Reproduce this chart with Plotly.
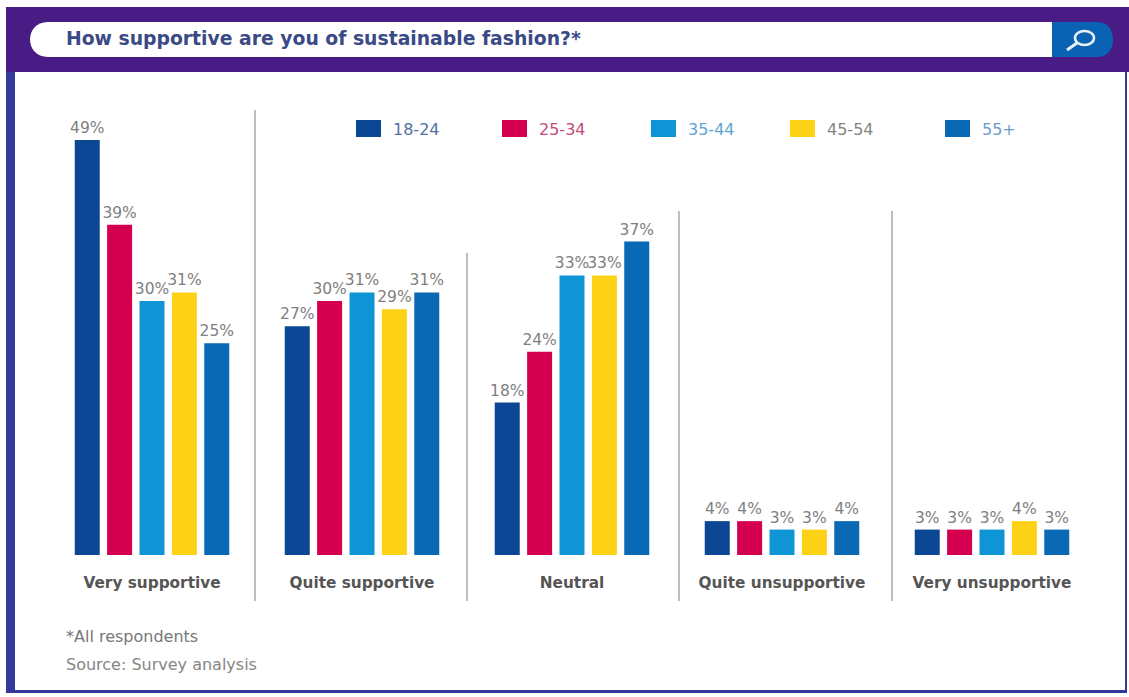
import plotly.graph_objects as go

W, H = 1129, 697

categories = ["Very supportive", "Quite supportive", "Neutral", "Quite unsupportive", "Very unsupportive"]
age_groups = ["18-24", "25-34", "35-44", "45-54", "55+"]
values_18_24 = [49, 27, 18, 4, 3]
values_25_34 = [39, 30, 24, 4, 3]
values_35_44 = [30, 31, 33, 3, 3]
values_45_54 = [31, 29, 33, 3, 4]
values_55_up = [25, 31, 37, 4, 3]
series = [values_18_24, values_25_34, values_35_44, values_45_54, values_55_up]
colors = ["#0b4795", "#d4004f", "#0f94d6", "#fdd116", "#0a69b5"]
legend_text_colors = ["#52719f", "#c44a7a", "#5da5d2", "#85857c", "#6d9bcb"]
title_text = "How supportive are you of sustainable fashion?*"
footnote = "*All respondents"
source = "Source: Survey analysis"

FONT = "DejaVu Sans"
GREY = "#808080"
PURPLE = "#481b85"
FRAME = "#33389a"


def px(x):
    return x / W


def py(y):
    return 1 - y / H


def rect(x0, y0, x1, y1, color):
    return dict(type="rect", xref="paper", yref="paper", layer="below",
                x0=px(x0), x1=px(x1), y0=py(y0), y1=py(y1),
                fillcolor=color, line_width=0)


def line(x0, y0, x1, y1, color, width):
    return dict(type="line", xref="paper", yref="paper",
                x0=px(x0), x1=px(x1), y0=py(y0), y1=py(y1),
                line=dict(color=color, width=width))


def text(x, y, s, color=GREY, size=13, anchor="left", bold=False):
    return dict(xref="paper", yref="paper", x=px(x), y=py(y), text=f"<b>{s}</b>" if bold else s,
                showarrow=False, xanchor=anchor, yanchor="middle",
                font=dict(family=FONT, size=size, color=color))


fig = go.Figure()
for name, vals, color in zip(age_groups, series, colors):
    fig.add_trace(go.Bar(
        name=name, x=categories, y=vals, marker=dict(color=color, line_width=0),
        text=[f"{v}%" for v in vals], textposition="outside", cliponaxis=False,
        constraintext="none",
        textfont=dict(family=FONT, size=15.5, color=GREY), showlegend=False,
    ))

# Panel frame, header band, search pill and its blue tab
shapes = [
    rect(6, 8, 1127, 693, FRAME),
    rect(15, 72, 1125, 690, "#ffffff"),
    rect(6, 7, 1129, 72, PURPLE),
    dict(type="path", xref="paper", yref="paper", layer="below", fillcolor="#ffffff", line_width=0,
         path=f"M {px(1053)} {py(22)} L {px(48)} {py(22)} "
              f"C {px(24)} {py(22)} {px(24)} {py(57)} {px(48)} {py(57)} "
              f"L {px(1053)} {py(57)} Z"),
    dict(type="path", xref="paper", yref="paper", layer="below", fillcolor="#0a62b4", line_width=0,
         path=f"M {px(1052)} {py(22)} L {px(1098)} {py(22)} "
              f"C {px(1118)} {py(22)} {px(1118)} {py(57)} {px(1098)} {py(57)} "
              f"L {px(1052)} {py(57)} Z"),
    # Magnifier glyph
    dict(type="circle", xref="paper", yref="paper",
         x0=px(1075), x1=px(1094), y0=py(31), y1=py(45),
         line=dict(color="#e8f0f8", width=2.5)),
    line(1067, 50, 1077, 43, "#e8f0f8", 3),
]

# Column dividers
for x, top in [(255, 110), (467, 253), (679, 211), (892, 211)]:
    shapes.append(line(x, top, x, 601, "#a8a8a8", 1.5))

annotations = [
    text(64, 38, title_text, color="#3a4a86", size=18.8, bold=True),
    text(64, 636, footnote, color="#777777", size=16),
    text(64, 664, source, color="#858585", size=16),
]

# Legend row, spaced by hand to sit across the top of the panel
for name, color, label_color, x in zip(age_groups, colors, legend_text_colors, [356, 502, 651, 790, 945]):
    shapes.append(rect(x, 120, x + 25, 137, color))
    annotations.append(text(x + 35, 129, name, color=label_color, size=16))

fig.update_layout(
    width=W, height=H, margin=dict(l=0, r=0, t=0, b=0),
    paper_bgcolor="#ffffff", plot_bgcolor="rgba(0,0,0,0)",
    barmode="group", bargap=0.229, bargroupgap=0.228,
    font=dict(family=FONT),
    shapes=shapes, annotations=annotations,
    xaxis=dict(domain=[px(47), px(1097)], showline=False, showgrid=False, zeroline=False,
               ticks="outside", ticklen=14, tickcolor="rgba(0,0,0,0)",
               tickfont=dict(family=FONT, size=15.3, color="#555555", weight="bold")),
    yaxis=dict(domain=[py(555), py(100)], range=[0, 455 / 8.47], visible=False),
)

fig.write_html("out.html")
